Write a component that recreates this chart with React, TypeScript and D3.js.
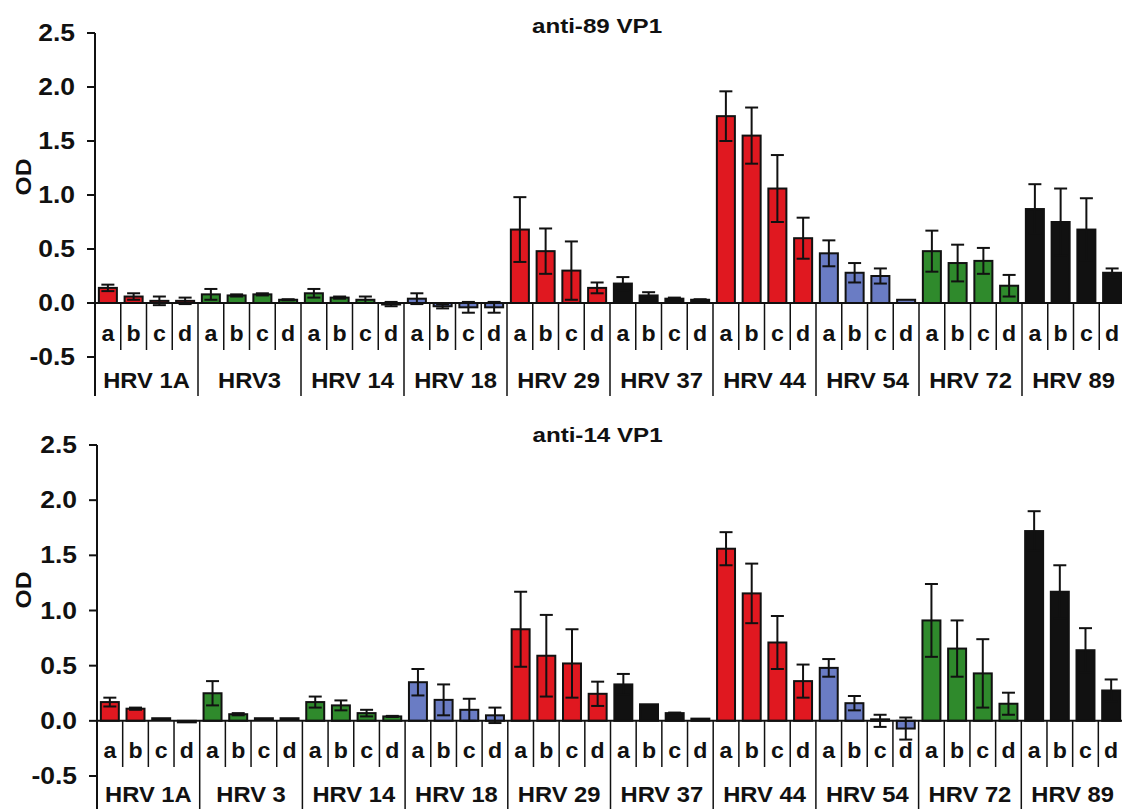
import { scaleBand, scaleLinear } from "d3";

const width = 1122;
const height = 809;

const subs = ["a", "b", "c", "d"];
const yTicks = [2.5, 2.0, 1.5, 1.0, 0.5, 0.0, -0.5];

const groupsTop = ["HRV 1A", "HRV3", "HRV 14", "HRV 18", "HRV 29", "HRV 37", "HRV 44", "HRV 54", "HRV 72", "HRV 89"];
const groupsBottom = ["HRV 1A", "HRV 3", "HRV 14", "HRV 18", "HRV 29", "HRV 37", "HRV 44", "HRV 54", "HRV 72", "HRV 89"];
const groupColors = ["red", "green", "green", "blue", "red", "black", "red", "blue", "green", "black"];

// anti-89 VP1, a..d for each HRV type
const anti89Mean = [
  0.14, 0.06, 0.02, 0.02,
  0.08, 0.07, 0.08, 0.03,
  0.09, 0.05, 0.03, -0.01,
  0.04, -0.03, -0.04, -0.04,
  0.68, 0.48, 0.30, 0.14,
  0.18, 0.07, 0.04, 0.03,
  1.73, 1.55, 1.06, 0.60,
  0.46, 0.28, 0.25, 0.03,
  0.48, 0.37, 0.39, 0.16,
  0.87, 0.75, 0.68, 0.28,
];
const anti89Err = [
  0.03, 0.03, 0.04, 0.03,
  0.05, 0.01, 0.01, 0.005,
  0.04, 0.01, 0.03, 0.02,
  0.05, 0.02, 0.05, 0.05,
  0.30, 0.21, 0.27, 0.05,
  0.06, 0.03, 0.01, 0.005,
  0.23, 0.26, 0.31, 0.19,
  0.12, 0.09, 0.07, 0.0,
  0.19, 0.17, 0.12, 0.10,
  0.23, 0.31, 0.29, 0.04,
];

// anti-14 VP1
const anti14Mean = [
  0.17, 0.11, 0.01, -0.01,
  0.25, 0.06, 0.01, 0.01,
  0.17, 0.14, 0.07, 0.04,
  0.35, 0.19, 0.10, 0.05,
  0.83, 0.59, 0.52, 0.245,
  0.33, 0.15, 0.07, 0.02,
  1.56, 1.155, 0.71, 0.36,
  0.48, 0.16, 0.0, -0.07,
  0.91, 0.655, 0.43, 0.155,
  1.72, 1.17, 0.64, 0.275,
];
const anti14Err = [
  0.04, 0.01, 0.0, 0.0,
  0.11, 0.01, 0.0, 0.0,
  0.05, 0.045, 0.03, 0.005,
  0.12, 0.14, 0.10, 0.07,
  0.34, 0.37, 0.31, 0.11,
  0.095, 0.0, 0.005, 0.0,
  0.15, 0.27, 0.24, 0.15,
  0.08, 0.065, 0.055, 0.1,
  0.33, 0.255, 0.31, 0.10,
  0.18, 0.24, 0.20, 0.10,
];

const colorMap: Record<string, string> = {
  red: "#e01820",
  green: "#2f8a2c",
  blue: "#6a7cc4",
  black: "#111111",
};

const font = "Liberation Sans, Arial, Helvetica, sans-serif";

type PanelProps = {
  title: string;
  groups: string[];
  means: number[];
  errs: number[];
  axisX: number;
  groupW: number;
  yTop: number;
  yBottom: number;
  titleY: number;
  subY: number;
  subLineEnd: number;
  groupY: number;
  axisEnd: number;
  odY: number;
};

function Panel(p: PanelProps) {
  const y = scaleLinear().domain([-0.5, 2.5]).range([p.yBottom, p.yTop]);
  const x = scaleBand<string>()
    .domain(p.groups)
    .range([p.axisX, p.axisX + p.groupW * p.groups.length])
    .padding(0);
  const xs = scaleBand<string>().domain(subs).range([0, p.groupW]).padding(0);
  const barW = xs.bandwidth() * 0.7;
  const capW = 13;
  const y0 = y(0);

  const bars = p.groups.flatMap((g, gi) =>
    subs.map((s, si) => {
      const i = gi * 4 + si;
      const v = p.means[i];
      const e = p.errs[i];
      const cx = (x(g) as number) + (xs(s) as number) + xs.bandwidth() / 2;
      const top = Math.min(y(v), y0);
      const h = Math.max(Math.abs(y(v) - y0), 1.5);
      const eHi = y(v + e);
      const eLo = y(v - e);
      return (
        <g key={`${g}-${s}`}>
          <rect
            x={cx - barW / 2}
            y={v >= 0 ? top - (h > 1.5 ? 0 : 1.5) : top}
            width={barW}
            height={h}
            fill={colorMap[groupColors[gi]]}
            stroke="#111"
            strokeWidth={2}
          />
          {e > 0 && (
            <g stroke="#111" strokeWidth={2}>
              <line x1={cx} x2={cx} y1={eHi} y2={eLo} />
              <line x1={cx - capW / 2} x2={cx + capW / 2} y1={eHi} y2={eHi} />
              <line x1={cx - capW / 2} x2={cx + capW / 2} y1={eLo} y2={eLo} />
            </g>
          )}
        </g>
      );
    })
  );

  const xEnd = p.axisX + p.groupW * p.groups.length;

  return (
    <g fontFamily={font} fontWeight="bold" fill="#111">
      <text
        transform={`translate(${(p.axisX + xEnd) / 2 - 13},${p.titleY}) scale(1.15,1)`}
        textAnchor="middle"
        fontSize={21}
      >
        {p.title}
      </text>
      <text
        transform={`translate(31,${p.odY}) rotate(-90) scale(1.12,1)`}
        textAnchor="middle"
        fontSize={22}
      >
        OD
      </text>
      {yTicks.map((t) => (
        <g key={t}>
          <line x1={p.axisX - 8} x2={p.axisX} y1={y(t)} y2={y(t)} stroke="#111" strokeWidth={2} />
          <text
            transform={`translate(${p.axisX - 20},${y(t) + 8}) scale(1.15,1)`}
            textAnchor="end"
            fontSize={23}
          >
            {t.toFixed(1)}
          </text>
        </g>
      ))}
      {bars}
      <line x1={p.axisX} x2={xEnd} y1={y0} y2={y0} stroke="#111" strokeWidth={2} />
      <line x1={p.axisX} x2={p.axisX} y1={y(2.5)} y2={p.axisEnd} stroke="#111" strokeWidth={2} />
      {p.groups.map((g, gi) => (
        <g key={g}>
          {gi > 0 && (
            <line x1={x(g)} x2={x(g)} y1={y0} y2={p.axisEnd} stroke="#111" strokeWidth={1.5} />
          )}
          {subs.map((s, si) => {
            const sx = (x(g) as number) + (xs(s) as number);
            return (
              <g key={s}>
                {si > 0 && (
                  <line x1={sx} x2={sx} y1={y0} y2={p.subLineEnd} stroke="#111" strokeWidth={1.5} />
                )}
                <text
                  transform={`translate(${sx + xs.bandwidth() / 2},${p.subY}) scale(1.05,1)`}
                  textAnchor="middle"
                  fontSize={22}
                >
                  {s}
                </text>
              </g>
            );
          })}
          <text
            transform={`translate(${(x(g) as number) + p.groupW / 2},${p.groupY}) scale(1.08,1)`}
            textAnchor="middle"
            fontSize={22}
          >
            {g.replace(" ", "\u00a0")}
          </text>
        </g>
      ))}
    </g>
  );
}

export default function App() {
  return (
    <svg
      width={width}
      height={height}
      style={{ position: "absolute", left: 0, top: 0, background: "#fff" }}
    >
      <rect width={width} height={height} fill="#fff" />
      <Panel
        title="anti-89 VP1"
        groups={groupsTop}
        means={anti89Mean}
        errs={anti89Err}
        axisX={95}
        groupW={103}
        yTop={33}
        yBottom={357}
        titleY={33}
        subY={341}
        subLineEnd={350}
        groupY={388}
        axisEnd={396}
        odY={177}
      />
      <Panel
        title="anti-14 VP1"
        groups={groupsBottom}
        means={anti14Mean}
        errs={anti14Err}
        axisX={97}
        groupW={102.7}
        yTop={445}
        yBottom={776}
        titleY={442}
        subY={758}
        subLineEnd={767}
        groupY={802}
        axisEnd={809}
        odY={590}
      />
    </svg>
  );
}
